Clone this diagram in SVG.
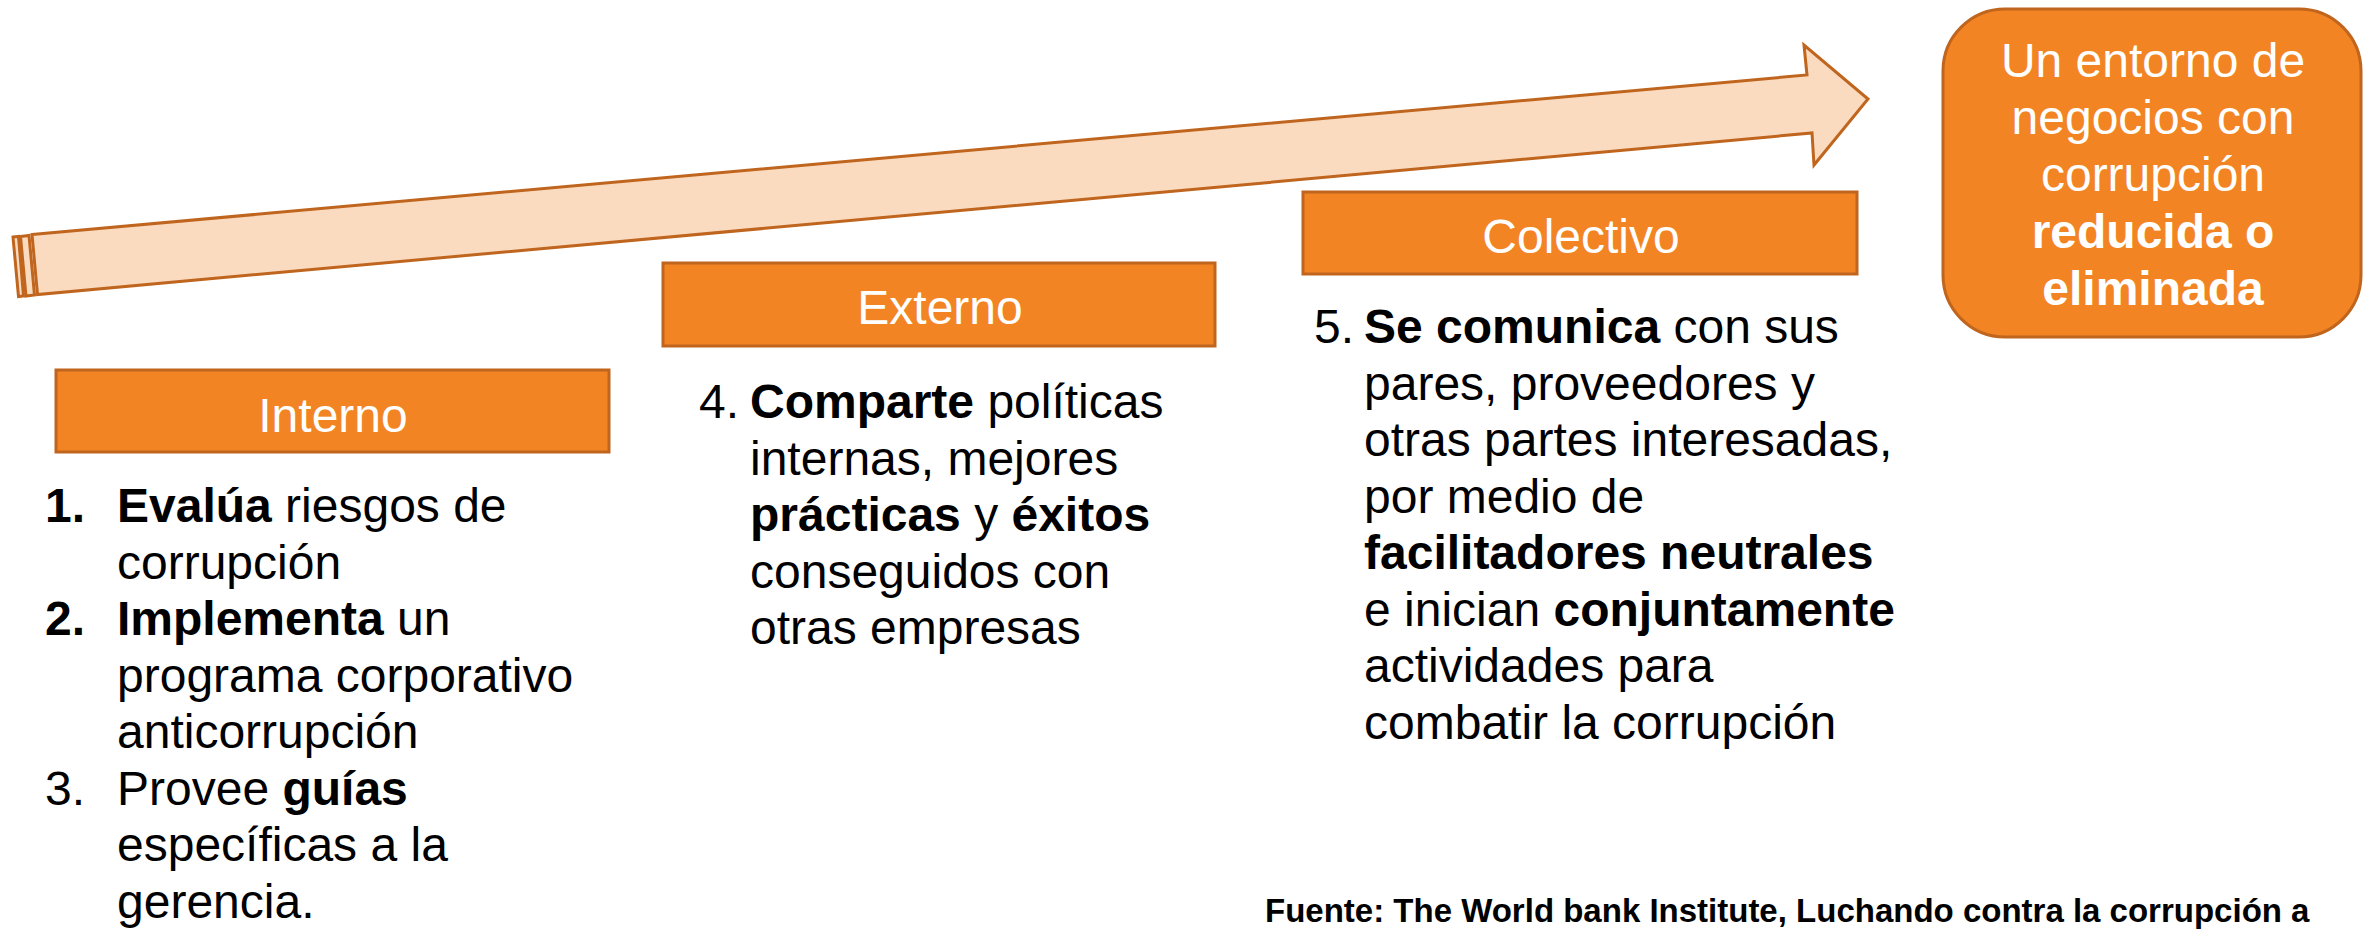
<svg xmlns="http://www.w3.org/2000/svg" width="2364" height="933" viewBox="0 0 2364 933">
<style>
.box{fill:#F38423;stroke:#C0651E;stroke-width:3}
.arrow{fill:#FADBC0;stroke:#C0651E;stroke-width:3;stroke-linejoin:miter}
.hdr{font-family:"Liberation Sans",Arial,sans-serif;font-size:48px;fill:#FFFFFF;text-anchor:middle}
.txt{font-family:"Liberation Sans",Arial,sans-serif;font-size:48px;fill:#000000}
.b{font-weight:bold}
.src{font-family:"Liberation Sans",Arial,sans-serif;font-size:33px;font-weight:bold;fill:#000000}
</style>
<rect width="2364" height="933" fill="#FFFFFF"/>
<g id="connectors">
<polygon class="arrow" points="13,237 18.5,236.5 23.5,296 18.5,296.5"/>
<polygon class="arrow" points="20.5,236.5 29,235.5 34.5,295 26,296"/>
<polygon class="arrow" points="32,234.5 1807,75 1804,45 1868,99 1814,165 1812,133 37.5,294.5"/>
</g>
<g id="interno">
<rect class="box" x="56" y="370" width="553" height="82"/>
<text class="hdr" x="333" y="432">Interno</text>
<text class="txt"><tspan class="b" x="45" y="522">1.</tspan><tspan class="b" x="117" y="522">Evalúa</tspan><tspan> riesgos de</tspan></text>
<text class="txt" x="117" y="578.5">corrupción</text>
<text class="txt"><tspan class="b" x="45" y="635">2.</tspan><tspan class="b" x="117" y="635">Implementa</tspan><tspan> un</tspan></text>
<text class="txt" x="117" y="691.5">programa corporativo</text>
<text class="txt" x="117" y="748">anticorrupción</text>
<text class="txt"><tspan x="45" y="804.5">3.</tspan><tspan x="117" y="804.5">Provee </tspan><tspan class="b">guías</tspan></text>
<text class="txt" x="117" y="861">específicas a la</text>
<text class="txt" x="117" y="917.5">gerencia.</text>
</g>
<g id="externo">
<rect class="box" x="663" y="263" width="552" height="83"/>
<text class="hdr" x="940" y="324">Externo</text>
<text class="txt"><tspan x="699" y="418">4.</tspan><tspan class="b" x="750" y="418">Comparte</tspan><tspan> políticas</tspan></text>
<text class="txt" x="750" y="474.5">internas, mejores</text>
<text class="txt" x="750" y="531"><tspan class="b">prácticas</tspan> y <tspan class="b">éxitos</tspan></text>
<text class="txt" x="750" y="587.5">conseguidos con</text>
<text class="txt" x="750" y="644">otras empresas</text>
</g>
<g id="colectivo">
<rect class="box" x="1303" y="192" width="554" height="82"/>
<text class="hdr" x="1581" y="253">Colectivo</text>
<text class="txt"><tspan x="1314" y="343">5.</tspan><tspan class="b" x="1364" y="343">Se comunica</tspan><tspan> con sus</tspan></text>
<text class="txt" x="1364" y="399.5">pares, proveedores y</text>
<text class="txt" x="1364" y="456">otras partes interesadas,</text>
<text class="txt" x="1364" y="512.5">por medio de</text>
<text class="txt b" x="1364" y="569">facilitadores neutrales</text>
<text class="txt" x="1364" y="625.5">e inician <tspan class="b">conjuntamente</tspan></text>
<text class="txt" x="1364" y="682">actividades para</text>
<text class="txt" x="1364" y="738.5">combatir la corrupción</text>
</g>
<g id="resultado">
<rect class="box" x="1943" y="9" width="418" height="328" rx="62" ry="62"/>
<text class="hdr" x="2153" y="77">Un entorno de</text>
<text class="hdr" x="2153" y="134">negocios con</text>
<text class="hdr" x="2153" y="191">corrupción</text>
<text class="hdr b" x="2153" y="248">reducida o</text>
<text class="hdr b" x="2153" y="305">eliminada</text>
</g>
<g id="fuente">
<text class="src" x="1265" y="922">Fuente: The World bank Institute, Luchando contra la corrupción a</text>
</g>
</svg>
